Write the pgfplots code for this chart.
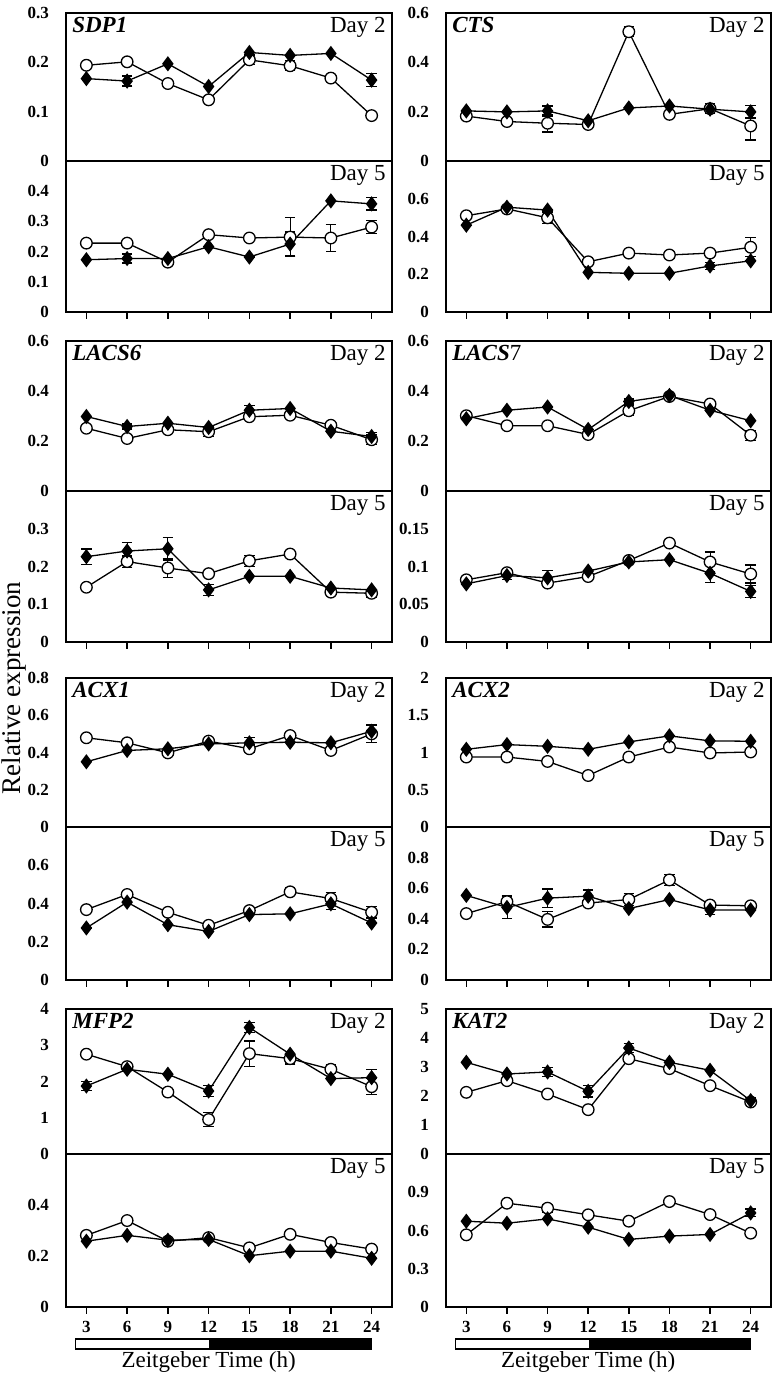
\documentclass[border=0pt]{standalone}
\usepackage{fontspec}
\setmainfont{Liberation Serif}
\usepackage{pgfplots}
\pgfplotsset{compat=1.18}
\pgfplotsset{
 panel/.style={scale only axis, xmin=1.5, xmax=25.5, ymin=0, clip=false,
   anchor=south west, axis line style={line width=0.9pt},
   tick align=outside, xtick pos=bottom, ytick pos=left, major tick length=3.5pt,
   tick style={black, line width=0.7pt}, ytick style={draw=none},
   yticklabel style={font=\bfseries\fontsize{8.5}{9}\selectfont, xshift=-1.5pt},
   xticklabel style={font=\bfseries\fontsize{8.5}{9}\selectfont}},
 L/.style={panel, width=163pt},
 R/.style={panel, width=162.5pt},
 day2/.style={xtick=\empty},
 day5/.style={xtick={3,6,...,24}, xticklabels={}},
 bot/.style={xtick={3,6,...,24}, xticklabels={3,6,9,12,15,18,21,24}},
 op/.style={black, line width=0.65pt, mark=*, mark size=2.9pt,
   mark options={fill=white, line width=0.65pt, solid},
   error bars/.cd, y dir=both, y explicit,
   error mark options={rotate=90, mark size=2.6pt, line width=0.65pt}},
 cl/.style={black, line width=0.65pt, mark=diamond*, mark size=3.3pt,
   mark options={fill=black, solid},
   error bars/.cd, y dir=both, y explicit,
   error mark options={rotate=90, mark size=2.6pt, line width=0.65pt}},
}
\newcommand{\gene}[1]{\node[anchor=north west, inner sep=1pt, font=\bfseries\itshape\fontsize{11.5}{12}\selectfont] at (rel axis cs:0.012,0.985) {#1};}
\newcommand{\dayl}[1]{\node[anchor=north east, inner sep=1pt, font=\fontsize{11.5}{12}\selectfont] at (rel axis cs:0.988,0.985) {Day #1};}
\newcommand{\zt}{%
 \draw[line width=0.7pt, fill=white] ([yshift=-16pt]axis cs:2.2,0) rectangle ([yshift=-21pt]axis cs:12.1,0);
 \draw[line width=0.7pt, fill=black] ([yshift=-16pt]axis cs:12.1,0) rectangle ([yshift=-21pt]axis cs:24,0);
 \node[font=\fontsize{11.5}{12}\selectfont] at ([yshift=-27.5pt]axis cs:12,0) {Zeitgeber Time (h)};}
\begin{document}
\begin{tikzpicture}
\useasboundingbox (0,0) rectangle (389pt,689pt);
% ================= LEFT COLUMN =================
% SDP1 Day 2
\begin{axis}[L, day2, at={(33pt,608.5pt)}, height=74pt, ymax=0.3,
  ytick={0,0.1,0.2,0.3}, yticklabels={0,0.1,0.2,0.3}]
\addplot[op] table[x=x,y=y,y error=e,row sep=\\]{x y e\\3 0.194 0\\6 0.201 0\\9 0.157 0\\12 0.124 0\\15 0.205 0.01\\18 0.193 0.01\\21 0.168 0\\24 0.092 0\\};
\addplot[cl] table[x=x,y=y,y error=e,row sep=\\]{x y e\\3 0.167 0\\6 0.162 0.01\\9 0.197 0\\12 0.151 0\\15 0.220 0\\18 0.214 0\\21 0.218 0\\24 0.164 0.013\\};
\gene{SDP1}\dayl{2}
\end{axis}
% SDP1 Day 5
\begin{axis}[L, day5, at={(33pt,533pt)}, height=75.5pt, ymax=0.5,
  ytick={0,0.1,0.2,0.3,0.4}, yticklabels={0,0.1,0.2,0.3,0.4}]
\addplot[op] table[x=x,y=y,y error=e,row sep=\\]{x y e\\3 0.228 0\\6 0.228 0.01\\9 0.165 0\\12 0.256 0\\15 0.245 0\\18 0.248 0.065\\21 0.245 0.045\\24 0.281 0.022\\};
\addplot[cl] table[x=x,y=y,y error=e,row sep=\\]{x y e\\3 0.173 0\\6 0.177 0.015\\9 0.177 0\\12 0.216 0\\15 0.182 0\\18 0.225 0.04\\21 0.368 0\\24 0.358 0.02\\};
\dayl{5}
\end{axis}
% LACS6 Day 2
\begin{axis}[L, day2, at={(33pt,443.5pt)}, height=75pt, ymax=0.6,
  ytick={0,0.2,0.4,0.6}, yticklabels={0,0.2,0.4,0.6}]
\addplot[op] table[x=x,y=y,y error=e,row sep=\\]{x y e\\3 0.251 0\\6 0.21 0\\9 0.245 0\\12 0.237 0.02\\15 0.297 0\\18 0.303 0\\21 0.263 0\\24 0.205 0.02\\};
\addplot[cl] table[x=x,y=y,y error=e,row sep=\\]{x y e\\3 0.298 0\\6 0.258 0.01\\9 0.271 0\\12 0.254 0\\15 0.323 0.02\\18 0.33 0\\21 0.239 0\\24 0.218 0.015\\};
\gene{LACS6}\dayl{2}
\end{axis}
% LACS6 Day 5
\begin{axis}[L, day5, at={(33pt,368pt)}, height=75.5pt, ymax=0.4,
  ytick={0,0.1,0.2,0.3}, yticklabels={0,0.1,0.2,0.3}]
\addplot[op] table[x=x,y=y,y error=e,row sep=\\]{x y e\\3 0.145 0\\6 0.213 0.015\\9 0.196 0.025\\12 0.181 0\\15 0.215 0.015\\18 0.233 0.01\\21 0.132 0\\24 0.129 0.01\\};
\addplot[cl] table[x=x,y=y,y error=e,row sep=\\]{x y e\\3 0.226 0.02\\6 0.241 0.022\\9 0.247 0.03\\12 0.138 0.015\\15 0.174 0\\18 0.174 0\\21 0.143 0\\24 0.138 0\\};
\dayl{5}
\end{axis}
% ACX1 Day 2
\begin{axis}[L, day2, at={(33pt,275.5pt)}, height=74.5pt, ymax=0.8,
  ytick={0,0.2,0.4,0.6,0.8}, yticklabels={0,0.2,0.4,0.6,0.8}]
\addplot[op] table[x=x,y=y,y error=e,row sep=\\]{x y e\\3 0.479 0\\6 0.452 0\\9 0.398 0\\12 0.461 0\\15 0.42 0.02\\18 0.491 0\\21 0.411 0\\24 0.5 0.045\\};
\addplot[cl] table[x=x,y=y,y error=e,row sep=\\]{x y e\\3 0.35 0\\6 0.411 0\\9 0.42 0\\12 0.446 0\\15 0.452 0.03\\18 0.455 0\\21 0.452 0\\24 0.514 0.035\\};
\gene{ACX1}\dayl{2}
\end{axis}
% ACX1 Day 5
\begin{axis}[L, day5, at={(33pt,199pt)}, height=76.5pt, ymax=0.8,
  ytick={0,0.2,0.4,0.6}, yticklabels={0,0.2,0.4,0.6}]
\addplot[op] table[x=x,y=y,y error=e,row sep=\\]{x y e\\3 0.368 0\\6 0.447 0\\9 0.354 0\\12 0.286 0\\15 0.363 0\\18 0.461 0.02\\21 0.426 0.03\\24 0.354 0.03\\};
\addplot[cl] table[x=x,y=y,y error=e,row sep=\\]{x y e\\3 0.272 0\\6 0.407 0\\9 0.289 0\\12 0.254 0\\15 0.342 0\\18 0.346 0\\21 0.398 0.03\\24 0.298 0\\};
\dayl{5}
\end{axis}
% MFP2 Day 2
\begin{axis}[L, day2, at={(33pt,112pt)}, height=72.5pt, ymax=4,
  ytick={0,1,2,3,4}, yticklabels={0,1,2,3,4}]
\addplot[op] table[x=x,y=y,y error=e,row sep=\\]{x y e\\3 2.753 0\\6 2.41 0\\9 1.709 0\\12 0.951 0.2\\15 2.77 0.35\\18 2.63 0.15\\21 2.337 0.12\\24 1.857 0.22\\};
\addplot[cl] table[x=x,y=y,y error=e,row sep=\\]{x y e\\3 1.875 0.12\\6 2.337 0\\9 2.2 0\\12 1.737 0.15\\15 3.49 0.13\\18 2.753 0\\21 2.08 0\\24 2.106 0.23\\};
\gene{MFP2}\dayl{2}
\end{axis}
% MFP2 Day 5
\begin{axis}[L, bot, at={(33pt,35.5pt)}, height=76.5pt, ymax=0.6,
  ytick={0,0.2,0.4}, yticklabels={0,0.2,0.4}]
\addplot[op] table[x=x,y=y,y error=e,row sep=\\]{x y e\\3 0.281 0\\6 0.339 0\\9 0.258 0\\12 0.272 0\\15 0.232 0\\18 0.285 0\\21 0.253 0\\24 0.227 0\\};
\addplot[cl] table[x=x,y=y,y error=e,row sep=\\]{x y e\\3 0.258 0\\6 0.281 0\\9 0.262 0\\12 0.265 0\\15 0.201 0\\18 0.219 0\\21 0.219 0\\24 0.191 0\\};
\dayl{5}\zt
\end{axis}
% ================= RIGHT COLUMN =================
% CTS Day 2
\begin{axis}[R, day2, at={(223pt,608.5pt)}, height=74pt, ymax=0.6,
  ytick={0,0.2,0.4,0.6}, yticklabels={0,0.2,0.4,0.6}]
\addplot[op] table[x=x,y=y,y error=e,row sep=\\]{x y e\\3 0.182 0\\6 0.16 0\\9 0.153 0.035\\12 0.148 0\\15 0.524 0.02\\18 0.189 0\\21 0.212 0.02\\24 0.142 0.057\\};
\addplot[cl] table[x=x,y=y,y error=e,row sep=\\]{x y e\\3 0.203 0\\6 0.199 0\\9 0.203 0.02\\12 0.163 0\\15 0.215 0\\18 0.223 0\\21 0.21 0\\24 0.199 0.025\\};
\gene{CTS}\dayl{2}
\end{axis}
% CTS Day 5
\begin{axis}[R, day5, at={(223pt,533pt)}, height=75.5pt, ymax=0.8,
  ytick={0,0.2,0.4,0.6}, yticklabels={0,0.2,0.4,0.6}]
\addplot[op] table[x=x,y=y,y error=e,row sep=\\]{x y e\\3 0.51 0\\6 0.546 0\\9 0.499 0.03\\12 0.266 0\\15 0.312 0\\18 0.302 0.02\\21 0.312 0\\24 0.343 0.05\\};
\addplot[cl] table[x=x,y=y,y error=e,row sep=\\]{x y e\\3 0.46 0\\6 0.555 0\\9 0.54 0\\12 0.21 0\\15 0.205 0\\18 0.205 0\\21 0.244 0.02\\24 0.271 0\\};
\dayl{5}
\end{axis}
% LACS7 Day 2
\begin{axis}[R, day2, at={(223pt,443.5pt)}, height=75pt, ymax=0.6,
  ytick={0,0.2,0.4,0.6}, yticklabels={0,0.2,0.4,0.6}]
\addplot[op] table[x=x,y=y,y error=e,row sep=\\]{x y e\\3 0.301 0\\6 0.261 0\\9 0.261 0\\12 0.226 0\\15 0.321 0.02\\18 0.378 0\\21 0.348 0\\24 0.223 0.02\\};
\addplot[cl] table[x=x,y=y,y error=e,row sep=\\]{x y e\\3 0.289 0\\6 0.323 0\\9 0.336 0\\12 0.246 0\\15 0.358 0.01\\18 0.382 0\\21 0.323 0\\24 0.281 0\\};
\gene{LACS{\normalfont 7}}\dayl{2}
\end{axis}
% LACS7 Day 5
\begin{axis}[R, day5, at={(223pt,368pt)}, height=75.5pt, ymax=0.2,
  ytick={0,0.05,0.1,0.15}, yticklabels={0,0.05,0.1,0.15}]
\addplot[op] table[x=x,y=y,y error=e,row sep=\\]{x y e\\3 0.0824 0\\6 0.0918 0\\9 0.078 0\\12 0.0867 0\\15 0.108 0\\18 0.131 0\\21 0.106 0.013\\24 0.090 0.012\\};
\addplot[cl] table[x=x,y=y,y error=e,row sep=\\]{x y e\\3 0.077 0\\6 0.088 0.005\\9 0.085 0.01\\12 0.094 0\\15 0.106 0\\18 0.109 0\\21 0.091 0.012\\24 0.067 0.008\\};
\dayl{5}
\end{axis}
% ACX2 Day 2
\begin{axis}[R, day2, at={(223pt,275.5pt)}, height=74.5pt, ymax=2,
  ytick={0,0.5,1,1.5,2}, yticklabels={0,0.5,1,1.5,2}]
\addplot[op] table[x=x,y=y,y error=e,row sep=\\]{x y e\\3 0.939 0\\6 0.939 0\\9 0.88 0\\12 0.691 0\\15 0.939 0\\18 1.074 0\\21 0.993 0\\24 1.007 0\\};
\addplot[cl] table[x=x,y=y,y error=e,row sep=\\]{x y e\\3 1.043 0\\6 1.106 0\\9 1.083 0\\12 1.043 0\\15 1.142 0\\18 1.223 0\\21 1.156 0\\24 1.151 0\\};
\gene{ACX2}\dayl{2}
\end{axis}
% ACX2 Day 5
\begin{axis}[R, day5, at={(223pt,199pt)}, height=76.5pt, ymax=1.0,
  ytick={0,0.2,0.4,0.6,0.8}, yticklabels={0,0.2,0.4,0.6,0.8}]
\addplot[op] table[x=x,y=y,y error=e,row sep=\\]{x y e\\3 0.434 0\\6 0.512 0.04\\9 0.396 0.05\\12 0.503 0\\15 0.526 0.04\\18 0.654 0.035\\21 0.49 0\\24 0.485 0\\};
\addplot[cl] table[x=x,y=y,y error=e,row sep=\\]{x y e\\3 0.553 0\\6 0.474 0.07\\9 0.535 0.06\\12 0.548 0.04\\15 0.467 0\\18 0.526 0\\21 0.458 0.03\\24 0.458 0\\};
\dayl{5}
\end{axis}
% KAT2 Day 2
\begin{axis}[R, day2, at={(223pt,112pt)}, height=72.5pt, ymax=5,
  ytick={0,1,2,3,4,5}, yticklabels={0,1,2,3,4,5}]
\addplot[op] table[x=x,y=y,y error=e,row sep=\\]{x y e\\3 2.126 0\\6 2.529 0\\9 2.069 0\\12 1.529 0\\15 3.287 0\\18 2.943 0\\21 2.356 0\\24 1.793 0\\};
\addplot[cl] table[x=x,y=y,y error=e,row sep=\\]{x y e\\3 3.161 0\\6 2.759 0\\9 2.828 0.15\\12 2.161 0.2\\15 3.655 0.15\\18 3.161 0\\21 2.885 0\\24 1.839 0.12\\};
\gene{KAT2}\dayl{2}
\end{axis}
% KAT2 Day 5
\begin{axis}[R, bot, at={(223pt,35.5pt)}, height=76.5pt, ymax=1.2,
  ytick={0,0.3,0.6,0.9}, yticklabels={0,0.3,0.6,0.9}]
\addplot[op] table[x=x,y=y,y error=e,row sep=\\]{x y e\\3 0.566 0\\6 0.814 0\\9 0.775 0.03\\12 0.723 0\\15 0.673 0\\18 0.827 0\\21 0.725 0\\24 0.579 0\\};
\addplot[cl] table[x=x,y=y,y error=e,row sep=\\]{x y e\\3 0.673 0\\6 0.657 0\\9 0.691 0\\12 0.626 0\\15 0.53 0\\18 0.556 0\\21 0.569 0\\24 0.738 0.03\\};
\dayl{5}\zt
\end{axis}
% y label
\node[rotate=90, font=\fontsize{13.5}{14}\selectfont] at (7pt,345pt) {Relative expression};
\end{tikzpicture}
\end{document}
